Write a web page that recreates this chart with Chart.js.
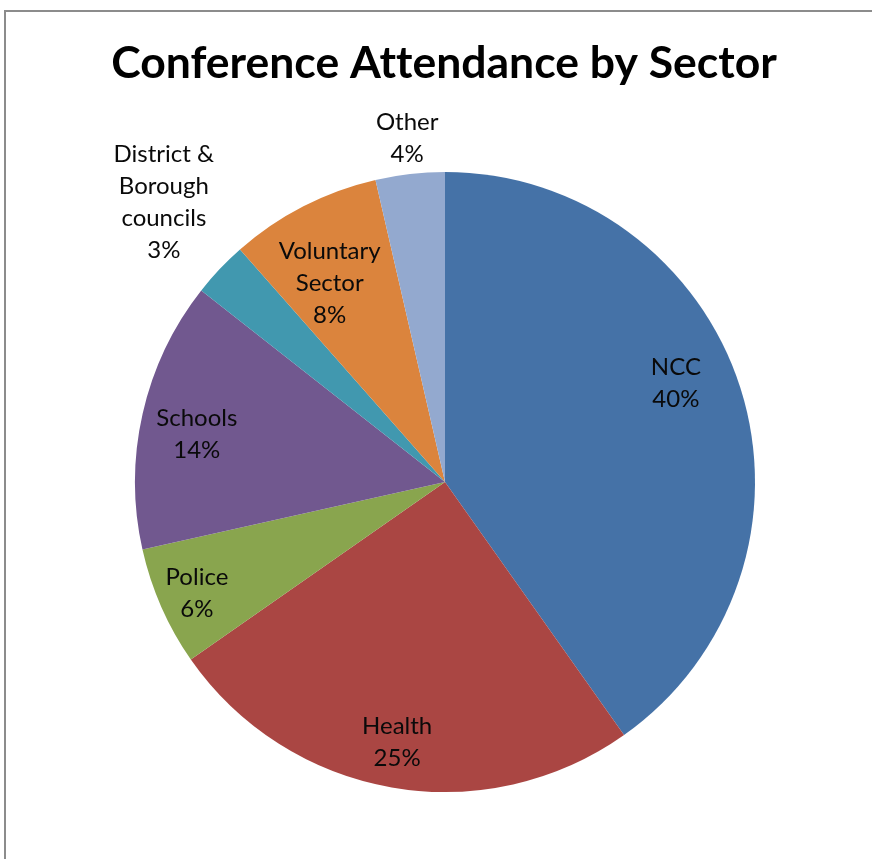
<!DOCTYPE html>
<html>
<head>
<meta charset="utf-8">
<script src="https://cdn.jsdelivr.net/npm/chart.js@4/dist/chart.umd.min.js"></script>
<style>
  html, body { margin: 0; padding: 0; background: #fff; }
  #wrap { position: relative; width: 872px; height: 859px; overflow: hidden; }
  #frame { position: absolute; left: 4px; top: 10px; width: 900px; height: 900px;
           border-left: 2px solid #8c8c8c; border-top: 2px solid #8c8c8c; }
  canvas { position: absolute; left: 0; top: 0; }
</style>
</head>
<body>
<div id="wrap">
  <div id="frame"></div>
  <canvas id="c" width="872" height="859"></canvas>
</div>
<script>
// ---- data ----
const chartTitle = "Conference At\u200Ctendance by Sector";
const categories = ["NCC", "Health", "Police", "Schools", "District & Borough councils", "Voluntary Sector", "Other"];
const labelLines = [["NCC"], ["Health"], ["Police"], ["Schools"], ["District &", "Borough", "councils"], ["Voluntary", "Sector"], ["Other"]];
const shares = [40.2, 25.1, 6.2, 14.1, 2.9, 7.9, 3.6];
const colors = ["#4572A7", "#AA4643", "#89A54E", "#71588F", "#4198AF", "#DB843D", "#93A9CF"];

// label placement (fraction of radius, angle tweak in degrees)
const labelLayout = [
  { r: 0.81, da: -5.5 },
  { r: 0.855, da: 0.5 },
  { r: 0.877, da: -0.4 },
  { r: 0.815, da: -2 },
  { r: 1.28, da: 1.5 },
  { r: 0.74, da: -3 },
  { r: 1.115, da: 0.2 }
];

const FONT = "Lato, 'Open Sans', sans-serif";

const titlePlugin = {
  id: 'customTitle',
  afterDraw(chart) {
    const ctx = chart.ctx;
    ctx.save();
    ctx.font = "bold 44.5px " + FONT;
    ctx.fillStyle = "#000";
    ctx.textAlign = "center";
    ctx.textBaseline = "middle";
    ctx.fillText(chartTitle, 444, 64);
    ctx.restore();
  }
};

const labelPlugin = {
  id: 'sliceLabels',
  afterDraw(chart) {
    const ctx = chart.ctx;
    const meta = chart.getDatasetMeta(0);
    const total = shares.reduce((a, b) => a + b, 0);
    ctx.save();
    ctx.font = "24px " + FONT;
    ctx.fillStyle = "#0a0a0a";
    ctx.textAlign = "center";
    ctx.textBaseline = "middle";
    meta.data.forEach((arc, i) => {
      const p = arc.getProps(['x', 'y', 'startAngle', 'endAngle', 'outerRadius'], true);
      const mid = (p.startAngle + p.endAngle) / 2 + labelLayout[i].da * Math.PI / 180;
      const rr = p.outerRadius * labelLayout[i].r;
      const cx = p.x + Math.cos(mid) * rr;
      const cy = p.y + Math.sin(mid) * rr;
      const lines = labelLines[i].concat([Math.round(shares[i] / total * 100) + "%"]);
      const lh = 32;
      const y0 = cy - (lines.length - 1) * lh / 2;
      lines.forEach((t, k) => ctx.fillText(t, cx, y0 + k * lh));
    });
    ctx.restore();
  }
};

new Chart(document.getElementById('c'), {
  type: 'pie',
  data: {
    labels: categories,
    datasets: [{
      data: shares,
      backgroundColor: colors,
      borderWidth: 0
    }]
  },
  options: {
    responsive: false,
    animation: false,
    layout: { padding: { left: 135, right: 117, top: 172, bottom: 67 } },
    plugins: {
      legend: { display: false },
      title: { display: false },
      tooltip: { enabled: false }
    }
  },
  plugins: [titlePlugin, labelPlugin]
});
</script>
</body>
</html>
